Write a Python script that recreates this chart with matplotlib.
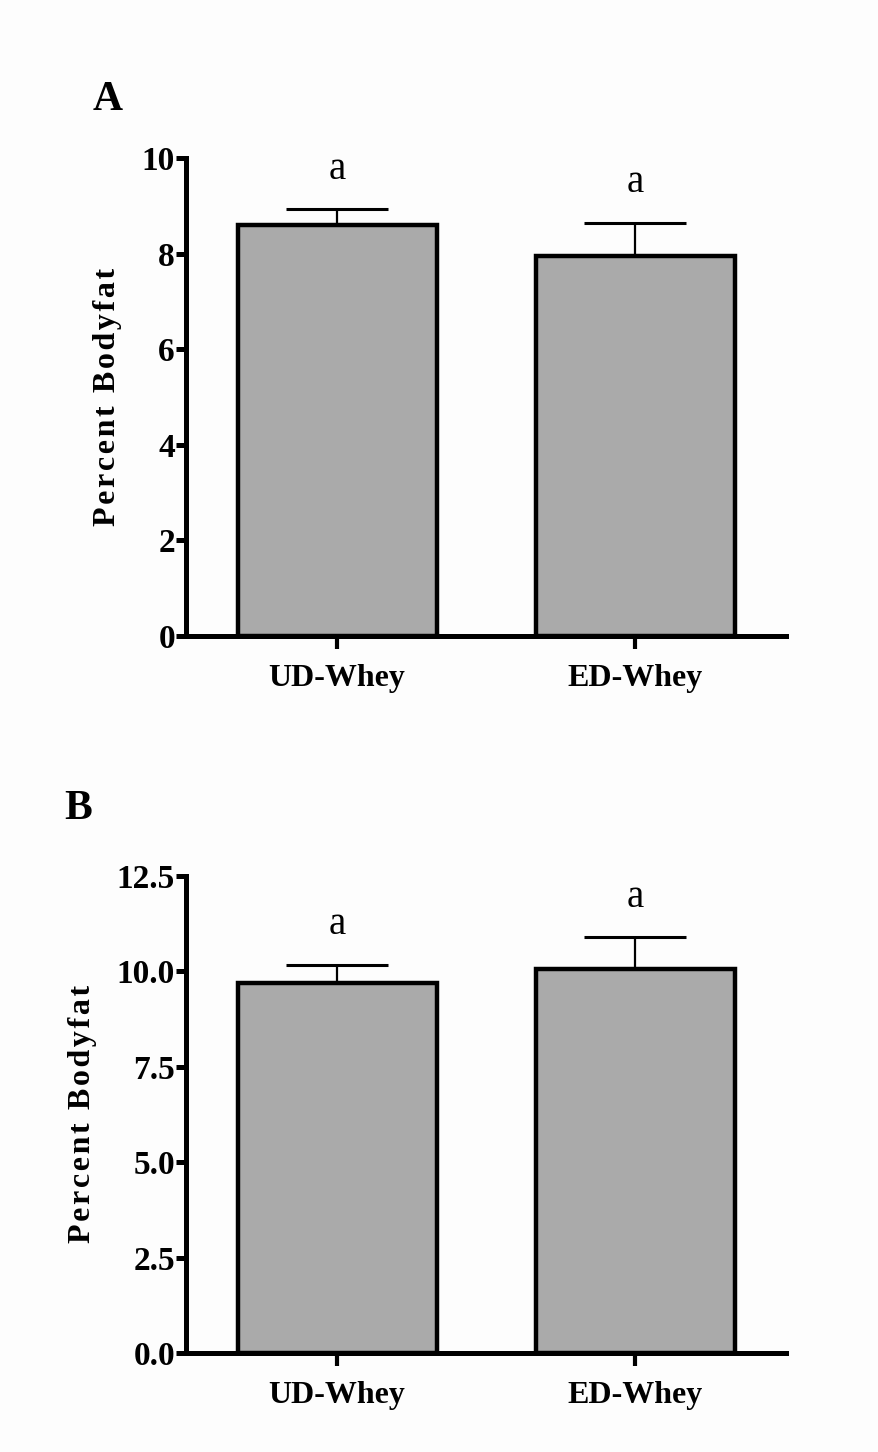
import matplotlib.pyplot as plt

groups = ["UD-Whey", "ED-Whey"]

# panel A
means_a = [8.6, 7.95]
sem_a = [0.33, 0.70]
ticks_a = [0, 2, 4, 6, 8, 10]
ticklabels_a = ["0", "2", "4", "6", "8", "10"]

# panel B
means_b = [9.70, 10.05]
sem_b = [0.47, 0.83]
ticks_b = [0, 2.5, 5.0, 7.5, 10.0, 12.5]
ticklabels_b = ["0.0", "2.5", "5.0", "7.5", "10.0", "12.5"]

letters = ["a", "a"]

plt.rcParams['font.family'] = ['Liberation Serif', 'DejaVu Serif']

fig = plt.figure(figsize=(8.79, 14.52), dpi=100)
fig.patch.set_facecolor("#fdfdfd")

ax_a = fig.add_axes([0.2116, 0.562, 0.683, 0.329])
ax_b = fig.add_axes([0.2116, 0.068, 0.683, 0.329])

# spaced-out y label like the original
ylab = "\u200a".join("Percent Bodyfat")


def draw_panel(ax, means, sem, ticks, ticklabels, ymax):
    x = range(len(groups))
    ax.set_facecolor("none")
    # error bars (upper only), drawn under the bars
    ax.errorbar(x, means, yerr=[[0] * len(sem), sem], fmt="none",
                ecolor="black", elinewidth=1.6, capsize=37, capthick=2.2,
                zorder=1)
    ax.bar(x, means, width=0.667, color="#aaaaaa", edgecolor="black",
           linewidth=3.2, zorder=2)
    for xi, m, e, lab in zip(x, means, sem, letters):
        ax.annotate(lab, (xi, m + e), xytext=(0, 29), textcoords="offset points",
                    ha="center", va="center", fontsize=28)
    ax.set_xlim(-0.507, 1.507)
    ax.set_ylim(0, ymax)
    ax.set_yticks(ticks)
    ax.set_yticklabels(ticklabels, fontweight="bold", fontsize=24)
    ax.set_xticks(list(x))
    ax.set_xticklabels(groups, fontweight="bold", fontsize=23)
    ax.spines["top"].set_visible(False)
    ax.spines["right"].set_visible(False)
    ax.spines["left"].set_linewidth(3.6)
    ax.spines["bottom"].set_linewidth(3.6)
    ax.tick_params(axis="y", length=7, width=3.6, pad=1)
    ax.tick_params(axis="x", length=9, width=3.0, pad=11)
    ax.set_ylabel(ylab, fontweight="bold", fontsize=23, labelpad=14)


draw_panel(ax_a, means_a, sem_a, ticks_a, ticklabels_a, 10)
draw_panel(ax_b, means_b, sem_b, ticks_b, ticklabels_b, 12.5)

fig.text(0.123, 0.931, "A", fontsize=30, fontweight="bold", ha="center", va="center")
fig.text(0.089, 0.443, "B", fontsize=30, fontweight="bold", ha="center", va="center")

fig.savefig("out.png", dpi=100, facecolor=fig.get_facecolor())
